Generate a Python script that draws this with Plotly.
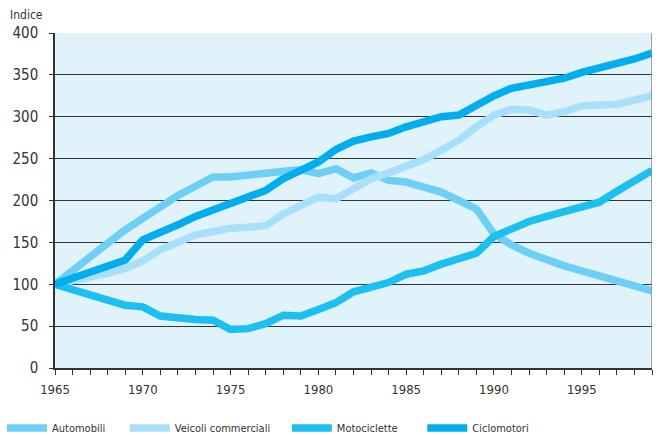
import plotly.graph_objects as go

years = list(range(1965, 2000))
automobili = [100, 117, 133, 149, 165, 179, 193, 206, 217, 228, 228, 230, 233, 233, 237, 232, 238, 227, 233, 224, 222, 216, 210, 200, 190, 160, 147, 137, 129, 122, 116, 110, 104, 99, 92]
veicoli = [100, 104, 108, 113, 119, 128, 141, 149, 159, 163, 167, 168, 170, 184, 194, 204, 202, 214, 226, 233, 241, 249, 260, 272, 288, 302, 309, 308, 302, 306, 313, 314, 315, 320, 325]
motociclette = [100, 93, 87, 81, 75, 73, 62, 59, 58, 57, 46, 47, 53, 63, 62, 70, 78, 91, 96, 102, 112, 116, 124, 130, 137, 157, 167, 175, 181, 186, 192, 198, 211, 223, 236]
ciclomotori = [100, 107, 113, 121, 129, 153, 161, 171, 181, 189, 198, 205, 212, 226, 236, 246, 261, 271, 276, 280, 288, 295, 300, 302, 314, 325, 334, 338, 340, 346, 353, 358, 364, 369, 376]

names = ["Automobili", "Veicoli commerciali", "Motociclette", "Ciclomotori"]
colors = ["#6DCFF6", "#A9E0F9", "#1CC0F0", "#00AEEF"]
series = [automobili, veicoli, motociclette, ciclomotori]
legend_x = [0.003, 0.188, 0.432, 0.636]

font_fam = "DejaVu Sans Condensed, Liberation Sans Narrow, sans-serif"

fig = go.Figure()
for i, (n, c, s) in enumerate(zip(names, colors, series)):
    fig.add_trace(go.Scatter(
        x=years, y=s, name=n, mode="lines",
        line=dict(color=c, width=7.5),
        legend="legend" if i == 0 else f"legend{i+1}",
        showlegend=True,
    ))

layout_legends = {}
for i, lx in enumerate(legend_x):
    key = "legend" if i == 0 else f"legend{i+1}"
    layout_legends[key] = dict(
        orientation="h", yanchor="middle", xanchor="left",
        xref="container", yref="container", x=lx, y=0.016,
        font=dict(family=font_fam, size=11, color="#333"),
        bgcolor="rgba(0,0,0,0)", itemwidth=40, visible=True,
    )

fig.update_layout(
    width=664, height=435,
    showlegend=True,
    margin=dict(l=52, r=12, t=33, b=67),
    paper_bgcolor="white",
    plot_bgcolor="#E0F2FA",
    font=dict(family=font_fam, color="#333"),
    xaxis=dict(
        range=[1965, 1999], showgrid=False, zeroline=False,
        tickvals=[1965, 1970, 1975, 1980, 1985, 1990, 1995],
        ticks="outside", ticklen=5, tickcolor="#333", tickwidth=1,
        minor=dict(dtick=1, tick0=1965, ticks="outside", ticklen=5, tickcolor="#333", showgrid=False),
        showline=True, linecolor="#333", linewidth=1.5,
        ticklabelstandoff=4,
        tickfont=dict(size=13, color="#333", family=font_fam),
    ),
    yaxis=dict(
        range=[0, 400], dtick=50, showgrid=True, gridcolor="#333", gridwidth=1,
        zeroline=False, ticks="outside", ticklen=4, tickcolor="#333",
        showline=True, linecolor="#333", linewidth=1.5,
        ticklabelstandoff=8,
        tickfont=dict(size=15, color="#333", family=font_fam),
    ),
    annotations=[dict(text="Indice", x=-0.078, y=1.054, xref="paper", yref="paper",
                      xanchor="left", yanchor="middle", showarrow=False,
                      font=dict(size=12, color="#333", family=font_fam))],
    shapes=[dict(type="line", xref="x", yref="paper", x0=1999, x1=1999, y0=0, y1=1,
                 line=dict(color="#888", width=1.5))],
    **layout_legends,
)

fig.write_html("out.html", config={"displayModeBar": False},
               post_script="document.body.style.margin='0';document.body.style.padding='0';")
